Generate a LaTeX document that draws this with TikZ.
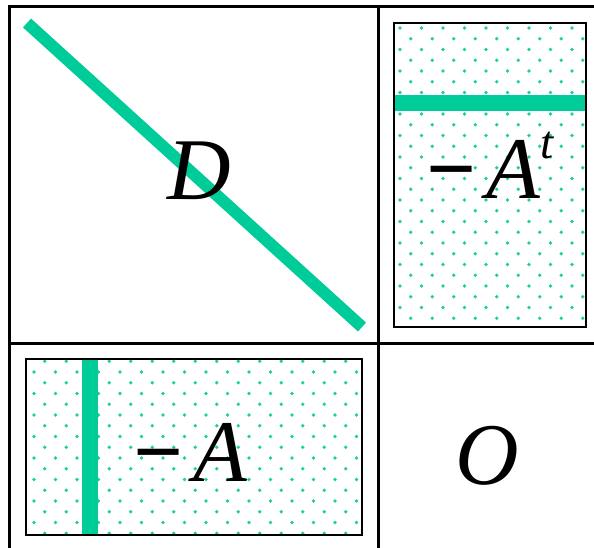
\documentclass[tikz,border=0pt]{standalone}
\usepackage{fontspec}
\setmainfont{Liberation Serif}
\definecolor{bandgreen}{RGB}{0,204,153}
\definecolor{dotgreen}{RGB}{30,208,155}
\usetikzlibrary{positioning}

\begin{document}
\begin{tikzpicture}[x=1pt, y=-1pt,
    gridline/.style={draw=black, line width=3pt},
    blockbox/.style={draw=black, line width=2.5pt},
    band/.style={draw=none, fill=bandgreen},
    dot/.style={fill=dotgreen},
    letter/.style={inner sep=0pt, anchor=base,
                   font=\fontsize{88}{100}\selectfont\itshape}
  ]
    \useasboundingbox (0,0) rectangle (594,548);

    % Dotted fill of the upper right block
    \begin{scope}
      \clip (394,23) rectangle (586,327);
      \foreach \i in {0,...,9} \foreach \j in {0,...,14} {
        \fill[dot] (400+21.5*\i, 28+21.5*\j) circle (1.9);
        \fill[dot] (410.75+21.5*\i, 38.75+21.5*\j) circle (1.9);
      }
    \end{scope}

    % Dotted fill of the lower left block
    \begin{scope}
      \clip (26,359) rectangle (362,535);
      \foreach \i in {0,...,16} \foreach \j in {15,...,24} {
        \fill[dot] (34+21.5*\i, 28+21.5*\j) circle (1.9);
        \fill[dot] (44.75+21.5*\i, 38.75+21.5*\j) circle (1.9);
      }
    \end{scope}

    % Green bands
    \draw[bandgreen, line width=12pt] (27,23) -- (362,327);
    \fill[band] (394,95) rectangle (586,111);
    \fill[band] (82,359) rectangle (98,535);

    % Block frames
    \draw[blockbox] (394,23) rectangle (586,327);
    \draw[blockbox] (26,359) rectangle (362,535);

    % Outer grid
    \draw[gridline] (9,548) -- (9,7) -- (594,7);
    \draw[gridline] (378,7) -- (378,548);
    \draw[gridline] (9,343) -- (594,343);

    % Block labels
    \node[letter] (dmat)  at (199,200) {D};
    \node[letter] (atmat) at (490,199)
      {\textbf{\upshape −}\hspace{10pt}A\raisebox{40pt}{\fontsize{47}{50}\selectfont t}};
    \node[letter] (amat)  at (190,481) {\textbf{\upshape −}\hspace{10pt}A};
    \node[letter] (omat)  at (487,484) {O};
  \end{tikzpicture}
\end{document}
